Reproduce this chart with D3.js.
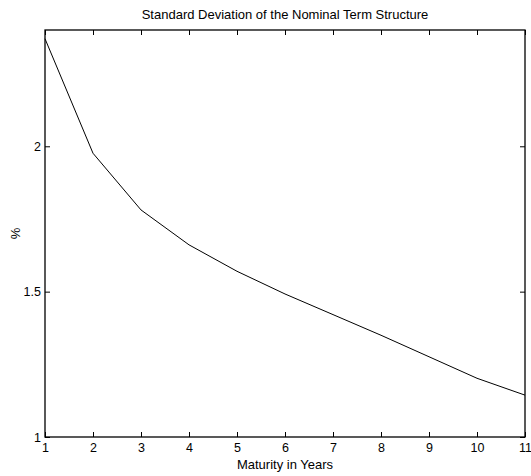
<!DOCTYPE html>
<html>
<head>
<meta charset="utf-8">
<script src="https://cdn.jsdelivr.net/npm/d3@7"></script>
<style>
  html, body { margin: 0; padding: 0; background: #fff; }
  svg { display: block; font-family: "Liberation Sans", Arial, sans-serif; }
</style>
</head>
<body>
<svg id="chart" width="531" height="476"></svg>
<script>
// Standard deviation (%) of nominal yields by maturity
const maturities = [1, 2, 3, 4, 5, 6, 7, 8, 9, 10, 11];
const stdDev = [2.37, 1.976, 1.781, 1.661, 1.570, 1.492, 1.421, 1.350, 1.276, 1.202, 1.144];
const xTicks = [1, 2, 3, 4, 5, 6, 7, 8, 9, 10, 11];
const yTicks = [1, 1.5, 2];

const svg = d3.select("#chart");
const m = { left: 45, right: 6, top: 30, bottom: 39 };
const W = 531, H = 476;
const fontSize = "13px";
const tickFont = "12.5px";

const x = d3.scaleLinear().domain([1, 11]).range([m.left, W - m.right]);
const y = d3.scaleLinear().domain([1, 2.4]).range([H - m.bottom, m.top]);

const tickLen = 5;

// bottom axis with inward ticks
const gx = svg.append("g").attr("transform", `translate(0,${H - m.bottom})`)
  .call(d3.axisBottom(x).tickValues(xTicks).tickSizeInner(-tickLen).tickSizeOuter(0).tickPadding(6).tickFormat(d3.format("d")));
// top mirror ticks
const gxt = svg.append("g").attr("transform", `translate(0,${m.top})`)
  .call(d3.axisTop(x).tickValues(xTicks).tickSizeInner(-tickLen).tickSizeOuter(0).tickFormat(""));
// left axis
const gy = svg.append("g").attr("transform", `translate(${m.left},0)`)
  .call(d3.axisLeft(y).tickValues(yTicks).tickSizeInner(-tickLen).tickSizeOuter(0).tickPadding(4).tickFormat(d3.format("")));
// right mirror ticks
const gyr = svg.append("g").attr("transform", `translate(${W - m.right},0)`)
  .call(d3.axisRight(y).tickValues(yTicks).tickSizeInner(-tickLen).tickSizeOuter(0).tickFormat(""));

[gx, gxt, gy, gyr].forEach(g => {
  g.select(".domain").remove();
  g.selectAll("line").attr("stroke", "#000").attr("stroke-width", 1);
  g.selectAll("text").attr("fill", "#000").style("font-size", tickFont);
});

// frame
svg.append("rect")
  .attr("x", m.left).attr("y", m.top)
  .attr("width", W - m.left - m.right).attr("height", H - m.top - m.bottom)
  .attr("fill", "none").attr("stroke", "#000").attr("stroke-width", 1.3);

// series line
const line = d3.line().x((d, i) => x(maturities[i])).y(d => y(d));
svg.append("path").datum(stdDev)
  .attr("d", line).attr("fill", "none").attr("stroke", "#000").attr("stroke-width", 1);

// title and axis labels
svg.append("text").attr("x", (m.left + W - m.right) / 2).attr("y", 19)
  .attr("text-anchor", "middle").style("font-size", fontSize)
  .text("Standard Deviation of the Nominal Term Structure");
svg.append("text").attr("x", (m.left + W - m.right) / 2).attr("y", 469)
  .attr("text-anchor", "middle").style("font-size", fontSize)
  .text("Maturity in Years");
svg.append("text").attr("transform", `translate(20,${(m.top + H - m.bottom) / 2}) rotate(-90)`)
  .attr("text-anchor", "middle").style("font-size", fontSize)
  .text("%");
</script>
</body>
</html>
